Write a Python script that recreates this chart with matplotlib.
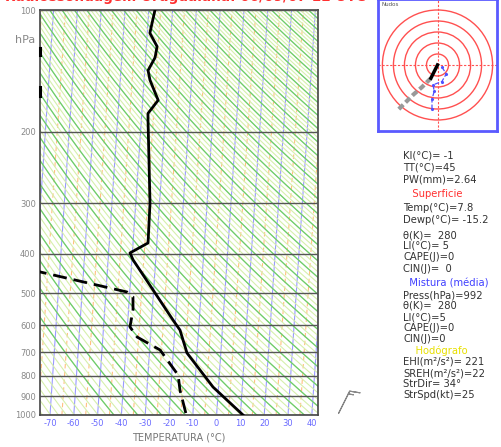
import numpy as np
import matplotlib
matplotlib.use('Agg')
import matplotlib.pyplot as plt
from matplotlib.patches import Circle

#################
# Sounding data #
#################

# temperature profile (hPa, degC)
pres_t = [1000, 853, 703, 617, 583, 414, 398, 376, 300, 187, 180, 167, 149, 141, 131, 123, 114, 100]
temp = [11.1, -2.3, -14.2, -17.8, -21.0, -39.5, -41.0, -33.7, -34.0, -37.2, -37.4,
        -33.5, -37.5, -38.6, -36.0, -35.5, -38.9, -37.4]

# dew point profile (hPa, degC)
pres_d = [989, 972, 868, 797, 691, 642, 606, 550, 511, 497, 443]
dewp = [-13.0, -13.4, -16.1, -17.3, -25.6, -35.6, -38.9, -38.1, -38.5, -41.1, -78.5]

# hodograph (kt)
hodo_u_low = [0, -6]
hodo_v_low = [0, -12]
hodo_u_up = [-6, -14, -22, -30, -36]
hodo_v_up = [-12, -20, -27, -35, -41]
storm_u = [4, 8, 4, -4, -3, -5, -5]
storm_v = [-2, -8, -15, -18, -24, -31, -40]
hodo_rings = [10, 20, 30, 40, 50]

# surface wind barb
barb_u = [-6]
barb_v = [-12]

# diagram background
p_levels = [100, 200, 300, 400, 500, 600, 700, 800, 900, 1000]
t_ticks = [-70, -60, -50, -40, -30, -20, -10, 0, 10, 20, 30, 40]
isotherms = list(range(-160, 60, 10))
half_isotherms = list(range(-155, 60, 10))
theta_main = list(range(230, 620, 10))

# index text
idx_lines = [
    ("KI(°C)= -1", '#333333', 155),
    ("TT(°C)=45", '#333333', 167),
    ("PW(mm)=2.64", '#333333', 179),
    ("   Superficie", '#ff3030', 194),
    ("Temp(°C)=7.8", '#333333', 208),
    ("Dewp(°C)= -15.2", '#333333', 220),
    ("θ(K)=  280", '#333333', 235),
    ("LI(°C)= 5", '#333333', 246),
    ("CAPE(J)=0", '#333333', 257),
    ("CIN(J)=  0", '#333333', 269),
    ("  Mistura (média)", '#4040ff', 284),
    ("Press(hPa)=992", '#333333', 295),
    ("θ(K)=  280", '#333333', 306),
    ("LI(°C)=5", '#333333', 317),
    ("CAPE(J)=0", '#333333', 328),
    ("CIN(J)=0", '#333333', 339),
    ("    Hodógrafo", '#e8e000', 351),
    ("EHI(m²/s²)= 221", '#333333', 362),
    ("SREH(m²/s²)=22", '#333333', 373),
    ("StrDir= 34°", '#333333', 384),
    ("StrSpd(kt)=25", '#333333', 395),
]

K = 5.0  # skew (degC per unit ln p)


def skew(t, p):
    return np.asarray(t) + K * np.log(1000.0 / np.asarray(p))


W, H = 501, 447
fig = plt.figure(figsize=(W / 100, H / 100), dpi=100)
ax = fig.add_axes([40 / W, 1 - 415 / H, 278 / W, 405 / H])

pp = np.geomspace(1000, 100, 200)

# isotherms
for t in isotherms:
    ax.plot(skew(t, pp), pp, color='#9a9aff', lw=0.8, zorder=1)
for t in half_isotherms:
    ax.plot(skew(t, pp), pp, color='#ffc080', lw=0.8, ls=(0, (4, 3)), zorder=1)

# dry adiabats, light and strong
for th in np.arange(200, 620, 10 / 3.0):
    tt = th * (pp / 1000.0) ** 0.286 - 273.15
    ax.plot(skew(tt, pp), pp, color='#d6f0ac', lw=0.8, zorder=1)
for th in theta_main:
    tt = th * (pp / 1000.0) ** 0.286 - 273.15
    ax.plot(skew(tt, pp), pp, color='#6ccc6c', lw=0.9, zorder=2)

for p in p_levels:
    ax.axhline(p, color='#555555', lw=1.0, zorder=3)

ax.plot(skew(temp, pres_t), pres_t, color='black', lw=2.0, zorder=5)
ax.plot(skew(dewp, pres_d), pres_d, color='black', lw=2.0, ls=(0, (5, 2.5)), zorder=5)

ax.set_yscale('log')
ax.set_ylim(1000, 100)
ax.set_xlim(-74.2, 42.6)
ax.set_yticks(p_levels)
ax.set_yticklabels([str(p) for p in p_levels], fontsize=6, color='#888888')
ax.yaxis.set_minor_locator(matplotlib.ticker.NullLocator())
ax.set_xticks(t_ticks)
ax.set_xticklabels([str(t) for t in t_ticks], fontsize=6, color='#6a6aff')
ax.tick_params(length=0, pad=3)
for s in ax.spines.values():
    s.set_color('#444444')
    s.set_linewidth(1.2)
ax.set_xlabel('TEMPERATURA (°C)', fontsize=7, color='#777777', labelpad=3)

# black marks on the left border
ax.plot([-74.2, -74.2], [124, 129], color='black', lw=2.2, clip_on=False, zorder=6)
ax.plot([-74.2, -74.2], [155, 163], color='black', lw=2.2, clip_on=False, zorder=6)

ax.barbs([51], [990], barb_u, barb_v, color='#888888', length=6, lw=0.8, clip_on=False)

fig.text(15 / W, 1 - 40 / H, 'hPa', fontsize=8, color='#888888', va='center')
fig.text(5 / W, 1 + 3 / H, 'Radiossondagem Uruguaiana: 06/09/07 12 UTC', fontsize=9.8,
         color='#ff3030', fontweight='bold', va='center')

# hodograph
hx = fig.add_axes([378 / W, 1 - 131 / H, 119 / W, 132 / H])
hx.set_xlim(-54, 54)
hx.set_ylim(-60, 60)
for r in hodo_rings:
    hx.add_patch(Circle((0, 0), r, fill=False, ec='#ff5050', lw=1.0))
hx.axhline(0, color='#ff5050', lw=0.8, ls=(0, (2, 1.5)))
hx.axvline(0, color='#ff5050', lw=0.8, ls=(0, (2, 1.5)))
hx.plot(storm_u, storm_v, color='#5050ff', lw=0.9, ls='--', marker='.', ms=2.5)
hx.plot(hodo_u_up, hodo_v_up, color='#999999', lw=3, ls=(0, (1.5, 0.8)))
hx.plot(hodo_u_low, hodo_v_low, color='black', lw=2.5)
hx.text(-51, 55, 'Nudos', fontsize=4, color='#555555', va='center')
hx.set_xticks([])
hx.set_yticks([])
for s in hx.spines.values():
    s.set_color('#5a5aff')
    s.set_linewidth(2)

for txt, col, y in idx_lines:
    fig.text(403 / W, 1 - y / H, txt, fontsize=7.2, color=col, va='center')

fig.savefig('out.png', dpi=100)
